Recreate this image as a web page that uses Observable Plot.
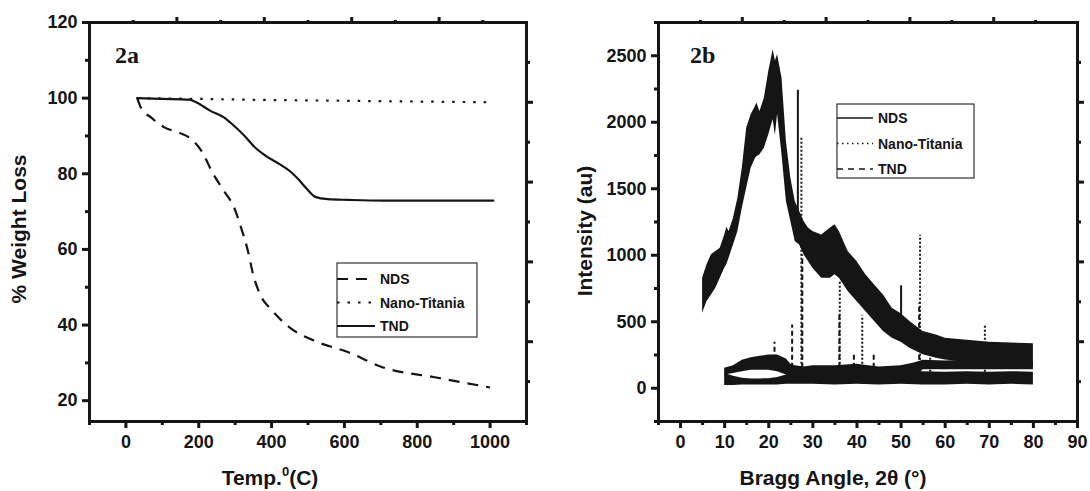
<!DOCTYPE html>
<html><head><meta charset="utf-8">
<script src="https://cdn.jsdelivr.net/npm/d3@7"></script>
<script src="https://cdn.jsdelivr.net/npm/@observablehq/plot@0.6"></script>
<style>
body{margin:0;background:#fff;}
#wrap{display:flex;width:1090px;height:491px;overflow:hidden;}
</style></head><body><div id="wrap"></div>
<script>
// ---------- Panel 2a : TGA ----------
const tempTicks = [0, 200, 400, 600, 800, 1000];
const tempMinor = [-100, 100, 300, 500, 700, 900, 1100];
const wlTicks = [20, 40, 60, 80, 100, 120];
const wlMinor = [30, 50, 70, 90, 110];

const ndsTemp = [31, 41, 69, 107, 145, 179, 207, 240, 269, 297, 316, 335, 349, 368, 402, 449, 516, 611, 706, 848, 1000];
const ndsWeight = [100, 97.5, 94.9, 92.2, 90.9, 89.2, 86.1, 79.9, 75.5, 71.1, 65.8, 59.6, 53.5, 48.2, 43.8, 39.4, 35.9, 32.8, 28.8, 26.2, 23.5];
const titaniaTemp = [31, 200, 400, 600, 800, 1009];
const titaniaWeight = [100, 99.8, 99.5, 99.3, 99.1, 98.9];
const tndTemp = [31, 100, 174, 193, 231, 269, 292, 326, 354, 383, 421, 449, 473, 497, 520, 554, 611, 706, 850, 1009];
const tndWeight = [100, 99.8, 99.6, 98.9, 96.7, 94.9, 93.1, 90.0, 87.0, 84.8, 82.6, 80.8, 78.6, 76.0, 73.9, 73.3, 73.1, 72.9, 72.9, 72.9];

// ---------- Panel 2b : XRD ----------
const angleTicks = [0, 10, 20, 30, 40, 50, 60, 70, 80, 90];
const angleMinor = [-5, 5, 15, 25, 35, 45, 55, 65, 75, 85];
const intTicks = [0, 500, 1000, 1500, 2000, 2500];
const intMinor = [-250, 250, 750, 1250, 1750, 2250, 2750];

// NDS broad amorphous hump: lower / upper edge of the noisy trace
const ndsAngle = [5, 6, 7, 8, 9, 10, 10.5, 11, 12, 13, 14, 15, 16, 17, 17.3, 18, 19, 20, 21, 21.5, 22, 23, 24, 25, 26, 27, 28, 29, 30, 32, 34, 35, 36, 38, 40, 42, 44, 46, 48, 50, 52, 55, 58, 60, 65, 70, 75, 80];
const ndsLow = [564, 652, 702, 752, 827, 903, 930, 978, 1078, 1178, 1354, 1505, 1655, 1730, 1740, 1755, 1805, 1906, 2020, 1900, 2060, 1755, 1404, 1254, 1103, 1078, 1003, 953, 903, 827, 827, 853, 827, 727, 652, 577, 502, 426, 376, 345, 301, 251, 226, 213, 195, 180, 168, 160];
const ndsHigh = [827, 928, 1003, 1028, 1053, 1150, 1210, 1178, 1279, 1429, 1655, 1956, 2056, 2120, 2144, 2081, 2181, 2382, 2545, 2460, 2507, 2332, 1855, 1580, 1404, 1329, 1254, 1204, 1179, 1153, 1204, 1229, 1179, 1028, 953, 853, 777, 702, 602, 560, 502, 426, 401, 376, 360, 345, 340, 335];

// TND (upper of the two low traces)
const tndAngle = [10, 12, 14, 16, 18, 20, 22, 24, 25, 26, 28, 30, 35, 40, 45, 50, 53, 55, 60, 65, 70, 75, 80];
const tndLow = [100, 110, 125, 135, 135, 135, 125, 100, 80, 60, 55, 60, 60, 70, 60, 60, 70, 140, 140, 140, 140, 140, 140];
const tndHigh = [150, 170, 210, 230, 240, 250, 250, 220, 180, 170, 160, 170, 170, 180, 160, 170, 190, 210, 205, 210, 200, 205, 200];

// Nano-Titania (lowest trace)
const titAngle = [10, 12, 14, 16, 18, 20, 22, 24, 25, 26, 30, 35, 40, 45, 50, 55, 60, 65, 70, 75, 80];
const titLow = [20, 20, 25, 25, 25, 25, 25, 30, 30, 30, 30, 25, 30, 25, 30, 25, 25, 30, 25, 30, 25];
const titHigh = [110, 90, 75, 70, 70, 72, 80, 100, 110, 120, 120, 125, 120, 120, 125, 125, 120, 125, 120, 125, 120];

// sharp reflections
const ndsPeakAngle = [26.6, 50.0];
const ndsPeakBase = [1100, 400];
const ndsPeakTop = [2240, 770];
const titPeakAngle = [27.4, 36.1, 41.2, 54.3, 56.6, 69.0];
const titPeakBase = [60, 60, 60, 60, 60, 60];
const titPeakTop = [1880, 800, 545, 1150, 330, 480];
const tndPeakAngle = [21.3, 25.3, 27.6, 36.0, 39.3, 43.8, 54.1, 62.8, 64.0];
const tndPeakBase = [150, 150, 150, 150, 150, 150, 150, 150, 150];
const tndPeakTop = [345, 475, 1000, 560, 270, 270, 640, 280, 300];

// ---------- helpers ----------
const FONT = '"Liberation Sans", Arial, Helvetica, sans-serif';
const INK = "#151515";
const zip = (xs, ys, kx, ky) => xs.map((v, i) => ({[kx]: v, [ky]: ys[i]}));
const band = (xs, lo, hi) => xs.map((v, i) => ({a: v, lo: lo[i], hi: hi[i]}));
const peaks = (xs, b, t) => xs.map((v, i) => ({a: v, b: b[i], t: t[i]}));
const fmt = d => String(d);
const blank = () => "";
const tenth = (dom, k) => dom[0] + (dom[1] - dom[0]) * k / 10;

function frameTicks(xd, yd) {
  const even = [2, 4, 6, 8];
  const odd = [1, 3, 5, 7, 9];
  return [
    Plot.axisX({anchor: "top", ticks: even.map(k => tenth(xd, k)), tickSize: 6, tickFormat: blank, label: null, strokeWidth: 3}),
    Plot.axisX({anchor: "top", ticks: odd.map(k => tenth(xd, k)), tickSize: 3, tickFormat: blank, label: null, strokeWidth: 3}),
    Plot.axisY({anchor: "right", ticks: even.map(k => tenth(yd, k)), tickSize: 6, tickFormat: blank, label: null, strokeWidth: 3}),
    Plot.axisY({anchor: "right", ticks: odd.map(k => tenth(yd, k)), tickSize: 3, tickFormat: blank, label: null, strokeWidth: 3})
  ];
}

function text(svg, o) {
  const t = d3.select(svg).append("text")
    .attr("x", o.x).attr("y", o.y)
    .attr("font-family", o.family || FONT)
    .attr("font-weight", "bold")
    .attr("font-size", o.size)
    .attr("fill", INK)
    .attr("text-anchor", o.anchor || "start");
  if (o.rotate) t.attr("transform", `rotate(${o.rotate},${o.x},${o.y})`);
  if (o.length) t.attr("textLength", o.length).attr("lengthAdjust", "spacingAndGlyphs");
  return t;
}

function legend(svg, box, rows) {
  const g = d3.select(svg).append("g").attr("text-anchor", "start");
  g.append("rect").attr("x", box.x).attr("y", box.y).attr("width", box.w).attr("height", box.h)
    .attr("fill", "white").attr("stroke", "#333").attr("stroke-width", 1.2);
  rows.forEach((r, i) => {
    const y = box.y + box.first + i * box.step;
    g.append("line").attr("x1", box.x).attr("x2", box.x + box.line).attr("y1", y).attr("y2", y)
      .attr("stroke", INK).attr("stroke-width", r.w).attr("stroke-dasharray", r.dash || null);
    g.append("text").attr("x", box.x + box.line + 5).attr("y", y + 5)
      .attr("text-anchor", "start")
      .attr("font-family", FONT).attr("font-weight", "bold").attr("font-size", 14).attr("fill", INK)
      .text(r.label);
  });
}

const style = {fontFamily: FONT, fontSize: "18px", fontWeight: "bold", color: INK, background: "white", overflow: "visible"};

// ---------- left plot ----------
const xL = [-100, 1100], yL = [14.5, 120];
const left = Plot.plot({
  width: 545, height: 491,
  marginLeft: 89, marginRight: 19, marginTop: 22, marginBottom: 70,
  x: {domain: xL, label: null},
  y: {domain: yL, label: null},
  style,
  marks: [
    Plot.axisX({ticks: tempTicks, tickSize: 7, tickPadding: 7, tickFormat: fmt, label: null, strokeWidth: 3}),
    Plot.axisX({ticks: tempMinor, tickSize: 4, tickFormat: blank, label: null, strokeWidth: 3}),
    Plot.axisY({ticks: wlTicks, tickSize: 7, tickPadding: 5, tickFormat: fmt, label: null, strokeWidth: 3}),
    Plot.axisY({ticks: wlMinor, tickSize: 4, tickFormat: blank, label: null, strokeWidth: 3}),
    ...frameTicks(xL, yL),
    Plot.line(zip(titaniaTemp, titaniaWeight, "t", "w"), {x: "t", y: "w", stroke: INK, strokeWidth: 2.2, strokeDasharray: "2.5,8", strokeLinecap: "butt"}),
    Plot.line(zip(ndsTemp, ndsWeight, "t", "w"), {x: "t", y: "w", stroke: INK, strokeWidth: 2.2, strokeDasharray: "11,8", strokeLinecap: "butt", curve: "monotone-x"}),
    Plot.line(zip(tndTemp, tndWeight, "t", "w"), {x: "t", y: "w", stroke: INK, strokeWidth: 2.2, curve: "monotone-x"}),
    Plot.frame({stroke: INK, strokeWidth: 3})
  ]
});

// ---------- right plot ----------
const xR = [-5, 90], yR = [-250, 2750];
const right = Plot.plot({
  width: 545, height: 491,
  marginLeft: 113, marginRight: 13, marginTop: 22, marginBottom: 70,
  x: {domain: xR, label: null},
  y: {domain: yR, label: null},
  style,
  marks: [
    Plot.axisX({ticks: angleTicks, tickSize: 7, tickPadding: 7, tickFormat: fmt, label: null, strokeWidth: 3}),
    Plot.axisX({ticks: angleMinor, tickSize: 4, tickFormat: blank, label: null, strokeWidth: 3}),
    Plot.axisY({ticks: intTicks, tickSize: 7, tickPadding: 5, tickFormat: fmt, label: null, strokeWidth: 3}),
    Plot.axisY({ticks: intMinor, tickSize: 4, tickFormat: blank, label: null, strokeWidth: 3}),
    ...frameTicks(xR, yR),
    Plot.areaY(band(titAngle, titLow, titHigh), {x: "a", y1: "lo", y2: "hi", fill: INK}),
    Plot.areaY(band(tndAngle, tndLow, tndHigh), {x: "a", y1: "lo", y2: "hi", fill: INK}),
    Plot.areaY(band(ndsAngle, ndsLow, ndsHigh), {x: "a", y1: "lo", y2: "hi", fill: INK}),
    Plot.ruleX(peaks(tndPeakAngle, tndPeakBase, tndPeakTop), {x: "a", y1: "b", y2: "t", stroke: INK, strokeWidth: 2, strokeDasharray: "5,3"}),
    Plot.ruleX(peaks(titPeakAngle, titPeakBase, titPeakTop), {x: "a", y1: "b", y2: "t", stroke: INK, strokeWidth: 2, strokeDasharray: "2,2"}),
    Plot.ruleX(peaks(ndsPeakAngle, ndsPeakBase, ndsPeakTop), {x: "a", y1: "b", y2: "t", stroke: INK, strokeWidth: 2}),
    Plot.frame({stroke: INK, strokeWidth: 3})
  ]
});

const wrap = document.getElementById("wrap");
wrap.appendChild(left);
wrap.appendChild(right);

// titles & panel tags
text(left, {x: 26, y: 229, size: 21, anchor: "middle", rotate: -90, length: 149}).text("% Weight Loss");
const tt = text(left, {x: 270, y: 485, size: 21, anchor: "middle"});
tt.append("tspan").text("Temp.");
tt.append("tspan").attr("font-size", 13).attr("dy", -9).text("0");
tt.append("tspan").attr("dy", 9).text("(C)");
text(left, {x: 115, y: 63, size: 24, family: '"Liberation Serif", "Times New Roman", serif'}).text("2a");

text(right, {x: 47, y: 231, size: 21, anchor: "middle", rotate: -90}).text("Intensity (au)");
text(right, {x: 288, y: 485, size: 21, anchor: "middle"}).text("Bragg Angle, 2θ (°)");
text(right, {x: 145, y: 63, size: 24, family: '"Liberation Serif", "Times New Roman", serif'}).text("2b");

legend(left, {x: 337, y: 263, w: 140, h: 74, first: 16, step: 23.5, line: 38}, [
  {label: "NDS", w: 2.2, dash: "11,8"},
  {label: "Nano-Titania", w: 2.2, dash: "2.5,8"},
  {label: "TND", w: 2.2}
]);
legend(right, {x: 292, y: 104, w: 137, h: 74, first: 14, step: 25.5, line: 36}, [
  {label: "NDS", w: 1.5},
  {label: "Nano-Titania", w: 1.5, dash: "1.5,3.5"},
  {label: "TND", w: 1.5, dash: "6,5"}
]);
</script></body></html>
